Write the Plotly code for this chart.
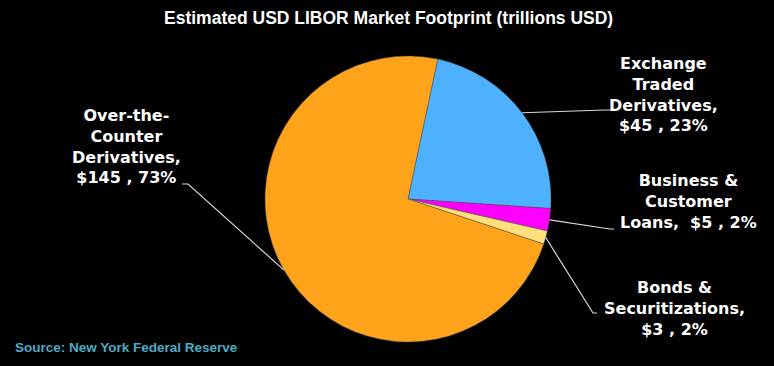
import math
import plotly.graph_objects as go

W, H = 774, 366

# ---- data ----
categories = ["Exchange Traded Derivatives", "Business & Customer Loans",
              "Bonds & Securitizations", "Over-the-Counter Derivatives"]
values = [45, 5, 3, 145]
label_texts = [
    "Exchange<br>Traded<br>Derivatives,<br>$45 , 23%",
    "Business &<br>Customer<br>Loans,  $5 , 2%",
    "Bonds &<br>Securitizations,<br>$3 , 2%",
    "Over-the-<br>Counter<br>Derivatives,<br>$145 , 73%",
]
colors = ["#4DB1FF", "#FF00FF", "#FFE07A", "#FFA31A"]

title_text = "Estimated USD LIBOR Market Footprint (trillions USD)"
source_text = "Source: New York Federal Reserve"

# ---- layout geometry (pixels) ----
cx, cy, r = 408, 199, 143
rotation = 12
# label block centres and leader-line label-side points (elbow, end)
label_pos = [(663, 94), (688, 202), (674, 308), (126, 146)]
leader_pts = [[(605, 110), (612, 110)],
              [(610, 229), (614, 229)],
              [(593, 313), (597, 313)],
              [(188, 184), (182, 184)]]


def px(x):
    return x / W


def py(y):
    return 1 - y / H


fig = go.Figure()
fig.add_trace(go.Pie(
    labels=categories, values=values, sort=False, direction="clockwise",
    rotation=rotation, textinfo="none", hoverinfo="label+value+percent",
    marker=dict(colors=colors, line=dict(color="#555555", width=0.5)),
    domain=dict(x=[px(cx - r), px(cx + r)], y=[py(cy + r), py(cy - r)]),
    showlegend=False,
))

total = sum(values)
start = rotation
shapes = []
annotations = []
for i, v in enumerate(values):
    span = 360 * v / total
    mid = math.radians(start + span / 2)
    start += span
    ax_ = cx + r * math.sin(mid)
    ay_ = cy - r * math.cos(mid)
    pts = [(ax_, ay_)] + leader_pts[i]
    path = "M " + " L ".join(f"{px(x):.5f},{py(y):.5f}" for x, y in pts)
    shapes.append(dict(type="path", path=path, xref="paper", yref="paper",
                       line=dict(color="#D9D9D9", width=1.2)))
    lx, ly = label_pos[i]
    annotations.append(dict(
        text=label_texts[i], x=px(lx), y=py(ly), xref="paper", yref="paper",
        xanchor="center", yanchor="middle", align="center", showarrow=False,
        font=dict(family="DejaVu Sans", size=16, color="white", weight="bold")))

annotations.append(dict(
    text=title_text, x=px(388), y=py(18), xref="paper", yref="paper",
    xanchor="center", yanchor="middle", showarrow=False,
    font=dict(family="Liberation Sans", size=17.5, color="white", weight="bold")))
annotations.append(dict(
    text=source_text, x=px(13), y=py(347), xref="paper", yref="paper",
    xanchor="left", yanchor="middle", showarrow=False,
    font=dict(family="Liberation Sans", size=13.5, color="#4BACC6", weight="bold")))

fig.update_layout(
    width=W, height=H, margin=dict(l=0, r=0, t=0, b=0),
    paper_bgcolor="black", plot_bgcolor="black",
    shapes=shapes, annotations=annotations,
)

fig.write_html("out.html")
